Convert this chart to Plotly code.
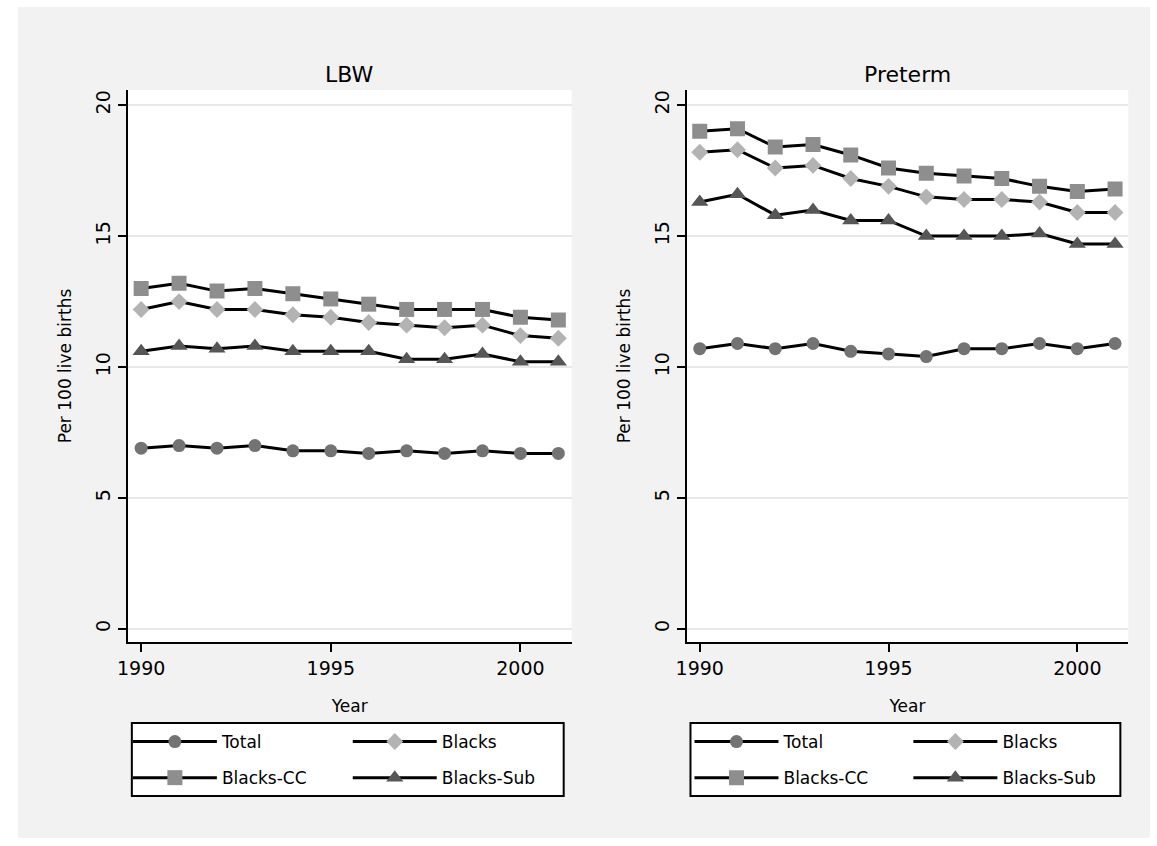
import plotly.graph_objects as go

# Years covered by both panels
years = [1990, 1991, 1992, 1993, 1994, 1995, 1996, 1997, 1998, 1999, 2000, 2001]

# Low birth weight, per 100 live births
lbw_total = [6.9, 7.0, 6.9, 7.0, 6.8, 6.8, 6.7, 6.8, 6.7, 6.8, 6.7, 6.7]
lbw_blacks = [12.2, 12.5, 12.2, 12.2, 12.0, 11.9, 11.7, 11.6, 11.5, 11.6, 11.2, 11.1]
lbw_blacks_cc = [13.0, 13.2, 12.9, 13.0, 12.8, 12.6, 12.4, 12.2, 12.2, 12.2, 11.9, 11.8]
lbw_blacks_sub = [10.6, 10.8, 10.7, 10.8, 10.6, 10.6, 10.6, 10.3, 10.3, 10.5, 10.2, 10.2]

# Preterm births, per 100 live births
pre_total = [10.7, 10.9, 10.7, 10.9, 10.6, 10.5, 10.4, 10.7, 10.7, 10.9, 10.7, 10.9]
pre_blacks = [18.2, 18.3, 17.6, 17.7, 17.2, 16.9, 16.5, 16.4, 16.4, 16.3, 15.9, 15.9]
pre_blacks_cc = [19.0, 19.1, 18.4, 18.5, 18.1, 17.6, 17.4, 17.3, 17.2, 16.9, 16.7, 16.8]
pre_blacks_sub = [16.3, 16.6, 15.8, 16.0, 15.6, 15.6, 15.0, 15.0, 15.0, 15.1, 14.7, 14.7]

panel_titles = ["LBW", "Preterm"]
series_names = ["Total", "Blacks", "Blacks-CC", "Blacks-Sub"]
y_ticks = [0, 5, 10, 15, 20]
x_ticks = [1990, 1995, 2000]

W, H = 1157, 846
FONT = "DejaVu Sans"


def px_x(p):
    return p / W


def px_y(p):
    return 1 - p / H


styles = {
    "Total": dict(symbol="circle", color="#737373", size=13),
    "Blacks": dict(symbol="diamond", color="#b3b3b3", size=13),
    "Blacks-CC": dict(symbol="square", color="#8e8e8e", size=15),
    "Blacks-Sub": dict(symbol="triangle-up", color="#565656", size=15),
}

panels = [
    dict(data=[lbw_total, lbw_blacks, lbw_blacks_cc, lbw_blacks_sub],
         xdom=(118, 566), xa="x", ya="y", legs=("legend", "legend2"),
         legx=(118, 340), box=(122, 558)),
    dict(data=[pre_total, pre_blacks, pre_blacks_cc, pre_blacks_sub],
         xdom=(682, 1128), xa="x2", ya="y2", legs=("legend3", "legend4"),
         legx=(685, 906), box=(686, 1120)),
]

plot_top, plot_bottom = 90, 642
legend_top, legend_bottom = 723, 796

fig = go.Figure()

for p in panels:
    for name, vals in zip(series_names, p["data"]):
        st = styles[name]
        # Total and Blacks-CC in the first legend column, the others in the second
        leg = p["legs"][0] if name in ("Total", "Blacks-CC") else p["legs"][1]
        fig.add_trace(go.Scatter(
            x=years, y=vals, name=name, mode="lines+markers",
            xaxis=p["xa"], yaxis=p["ya"], legend=leg, legendgroup=p["xa"] + name,
            line=dict(color="black", width=3),
            marker=dict(symbol=st["symbol"], color=st["color"], size=st["size"],
                        line=dict(width=0)),
        ))

axis_common = dict(
    showline=True, linecolor="black", linewidth=2,
    ticks="outside", ticklen=8, tickwidth=2, tickcolor="black",
    zeroline=False,
    tickfont=dict(family=FONT, size=19, color="black"),
)

layout = dict(
    width=W, height=H,
    margin=dict(l=0, r=0, t=0, b=0),
    paper_bgcolor="white",
    plot_bgcolor="white",
    font=dict(family=FONT, color="black"),
    showlegend=True,
)

for k, p in enumerate(panels):
    sfx = "" if k == 0 else "2"
    layout["xaxis" + sfx] = dict(
        axis_common,
        domain=[px_x(p["xdom"][0]), px_x(p["xdom"][1])],
        range=[1989.65, 2001.35], tickvals=x_ticks, showgrid=False,
        anchor="y" + sfx,
        title=dict(text="Year", font=dict(family=FONT, size=17), standoff=22),
    )
    layout["yaxis" + sfx] = dict(
        axis_common,
        domain=[px_y(plot_bottom), px_y(plot_top)],
        range=[-0.5, 20.58], tickvals=y_ticks, tickangle=-90,
        showgrid=True, gridcolor="#e8e8e8", gridwidth=2,
        anchor="x" + sfx,
        title=dict(text="Per 100 live births", font=dict(family=FONT, size=17), standoff=16),
    )

# Legend columns: two per panel
for p in panels:
    for x0, key in zip(p["legx"], p["legs"]):
        layout[key] = dict(
            x=px_x(x0), y=px_y(legend_top + 1), xanchor="left", yanchor="top",
            orientation="v", bgcolor="rgba(0,0,0,0)", borderwidth=0,
            font=dict(family=FONT, size=17, color="black"),
            itemwidth=84, traceorder="grouped", tracegroupgap=11,
        )

fig.update_layout(**layout)

shapes = [
    # light grey graph region
    dict(type="rect", xref="paper", yref="paper",
         x0=px_x(7), x1=px_x(1150), y0=px_y(838), y1=px_y(7),
         fillcolor="#f2f2f2", line=dict(width=0), layer="below"),
]
for p in panels:
    # white plot region
    shapes.append(dict(type="rect", xref="paper", yref="paper",
                       x0=px_x(p["xdom"][0]), x1=px_x(p["xdom"][1]),
                       y0=px_y(plot_bottom), y1=px_y(plot_top),
                       fillcolor="white", line=dict(width=0), layer="below"))
    # legend frame
    shapes.append(dict(type="rect", xref="paper", yref="paper",
                       x0=px_x(p["box"][0]), x1=px_x(p["box"][1]),
                       y0=px_y(legend_bottom), y1=px_y(legend_top),
                       fillcolor="white", line=dict(color="black", width=2), layer="below"))
fig.update_layout(shapes=shapes)

for p, title in zip(panels, panel_titles):
    fig.add_annotation(
        text=title, xref="paper", yref="paper",
        x=px_x((p["xdom"][0] + p["xdom"][1]) / 2), y=px_y(75),
        xanchor="center", yanchor="middle", showarrow=False,
        font=dict(family=FONT, size=22, color="black"),
    )

fig.write_html("out.html")
